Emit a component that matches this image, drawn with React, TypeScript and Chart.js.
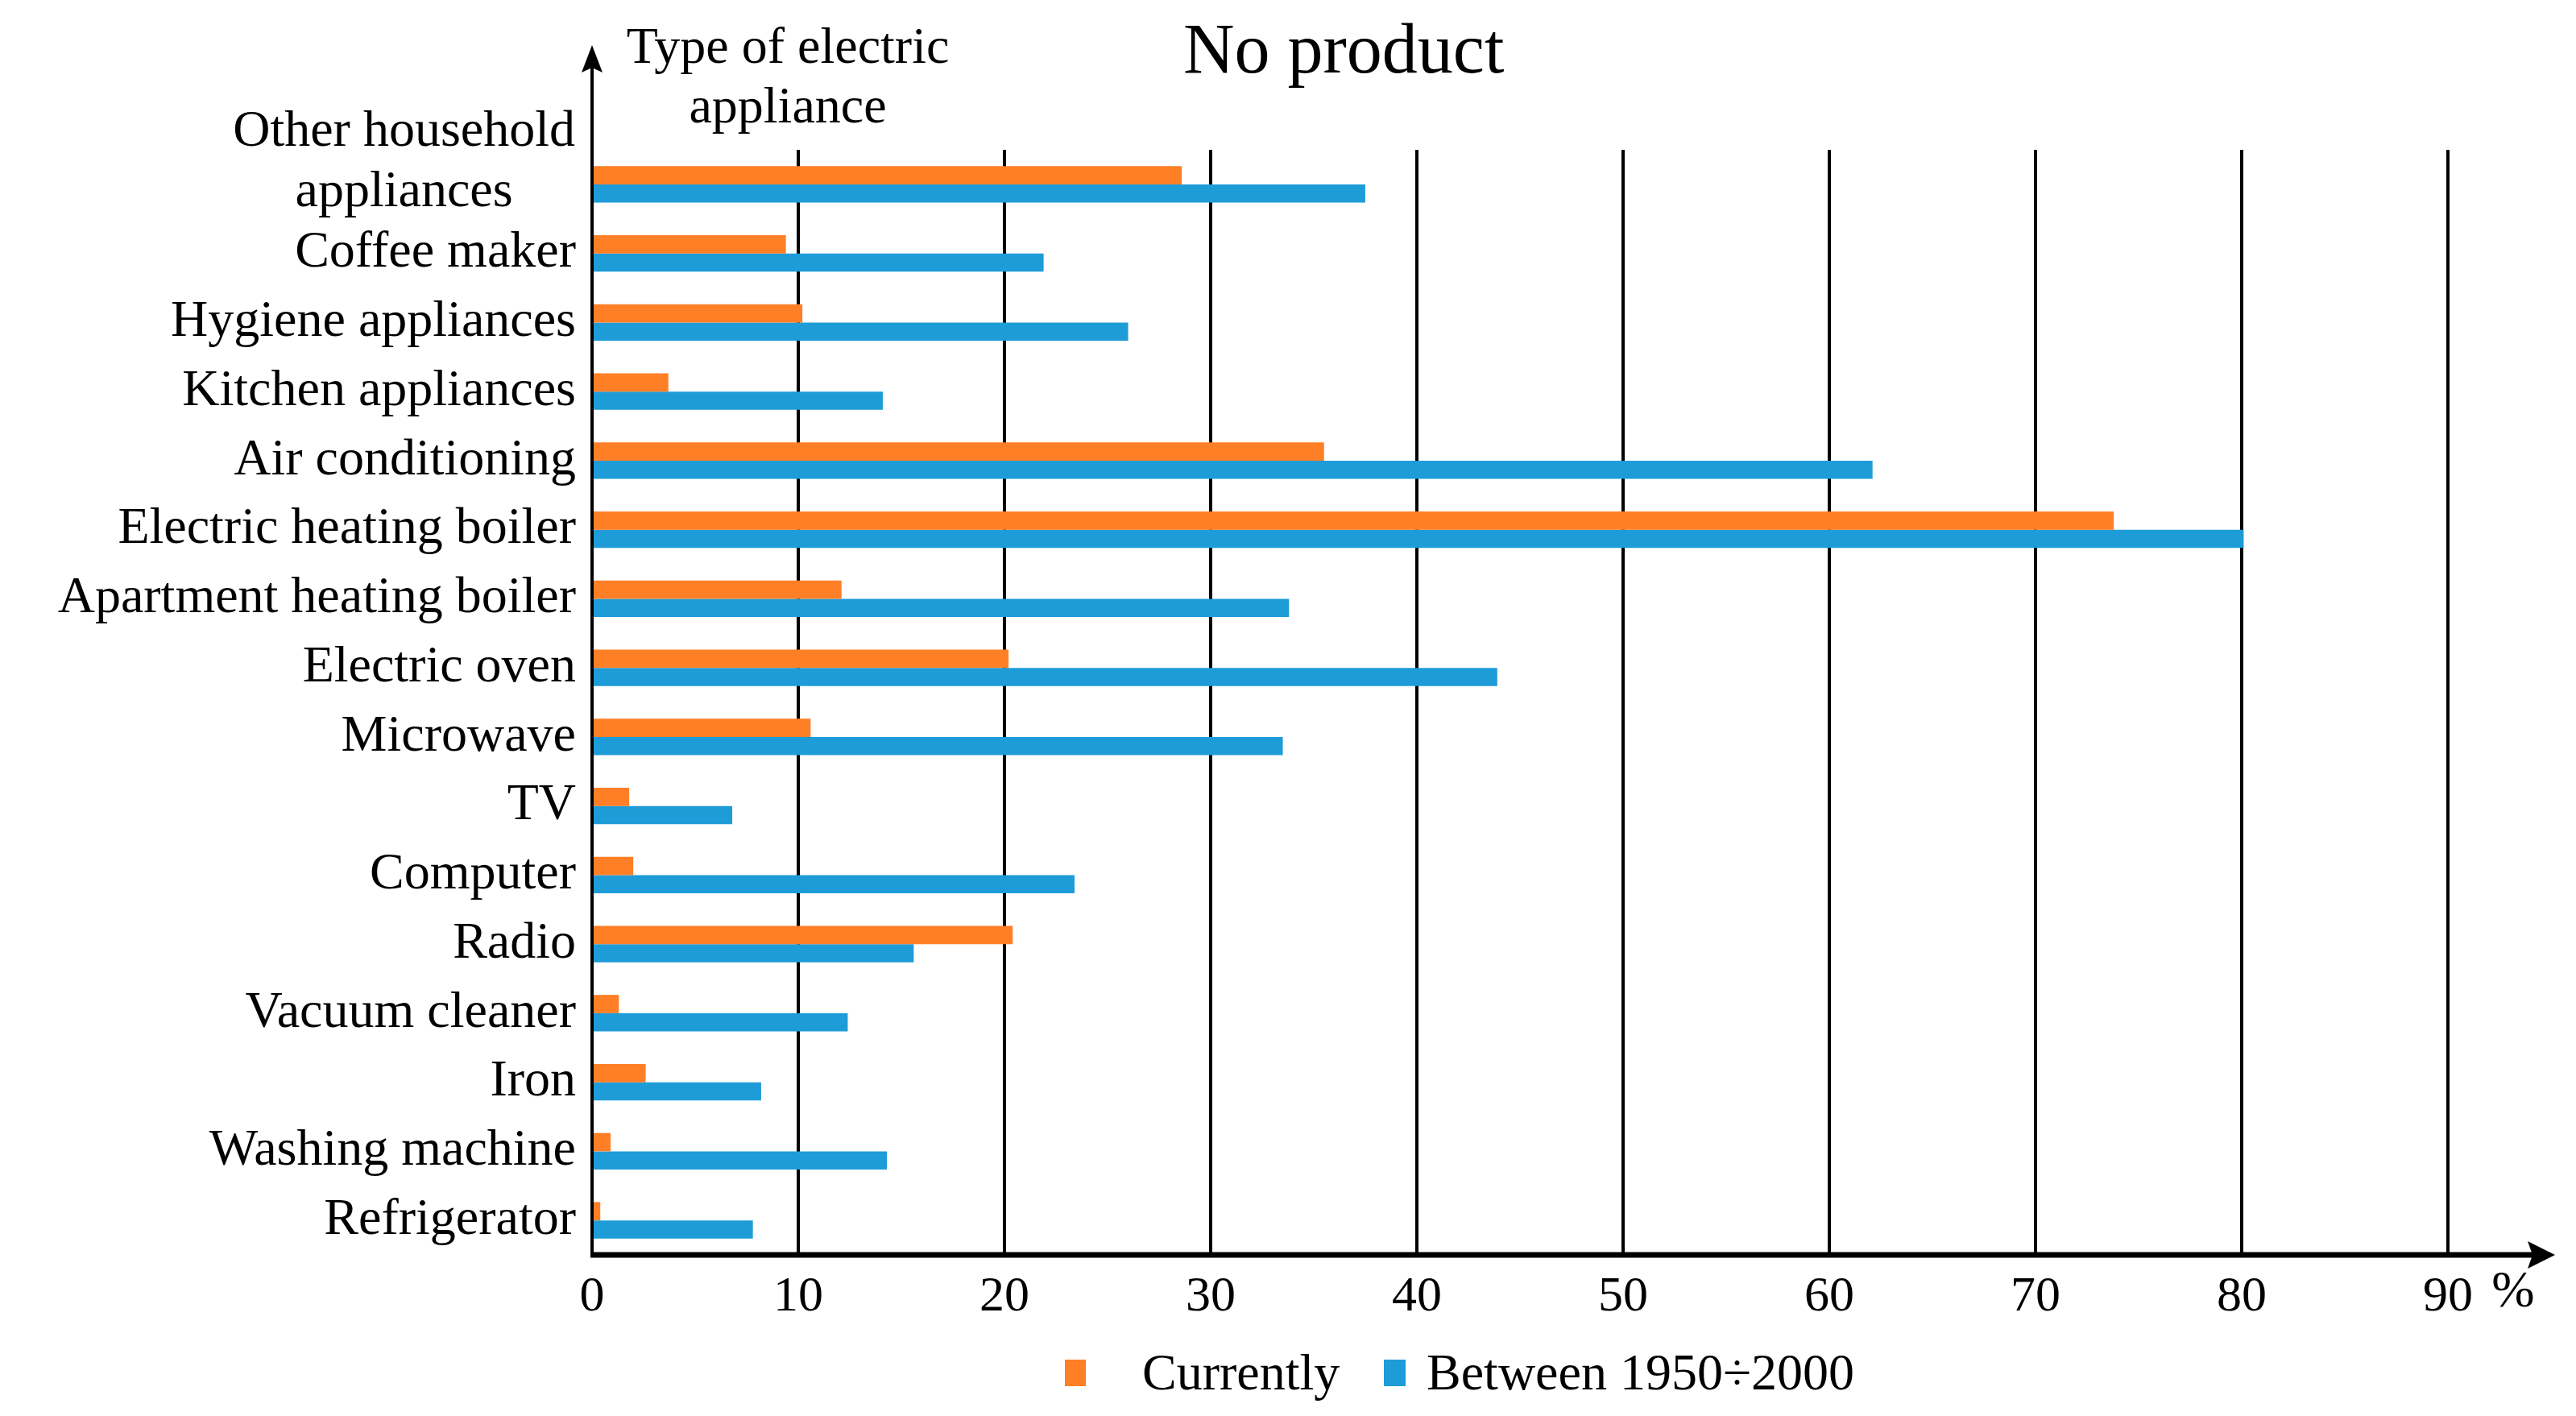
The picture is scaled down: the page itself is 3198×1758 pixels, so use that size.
import React, { useEffect, useRef } from "react";
import { Chart, registerables } from "chart.js";

Chart.register(...registerables);

const categories = [
  "Other household appliances",
  "Coffee maker",
  "Hygiene appliances",
  "Kitchen appliances",
  "Air conditioning",
  "Electric heating boiler",
  "Apartment heating boiler",
  "Electric oven",
  "Microwave",
  "TV",
  "Computer",
  "Radio",
  "Vacuum cleaner",
  "Iron",
  "Washing machine",
  "Refrigerator",
];
const currently = [28.6, 9.4, 10.2, 3.7, 35.5, 73.8, 12.1, 20.2, 10.6, 1.8, 2.0, 20.4, 1.3, 2.6, 0.9, 0.4];
const between = [37.5, 21.9, 26.0, 14.1, 62.1, 80.1, 33.8, 43.9, 33.5, 6.8, 23.4, 15.6, 12.4, 8.2, 14.3, 7.8];
const seriesNames = ["Currently", "Between 1950\u00F72000"];
const xTicks = [0, 10, 20, 30, 40, 50, 60, 70, 80, 90];
const chartTitle = "No product";
const yAxisTitle = ["Type of electric", "appliance"];
const unitLabel = "%";
const wrappedLabel = ["Other household", "appliances"];

const ORANGE = "#FF7F27";
const BLUE = "#1E9CD8";
const FONT = "'Liberation Serif', 'Times New Roman', serif";

const decorPlugin = {
  id: "decor",
  afterDraw(chart: any) {
    const { ctx, chartArea, scales } = chart;
    const x0 = scales.x.getPixelForValue(0);
    const bottom = chartArea.bottom;
    ctx.save();
    ctx.fillStyle = "#000";
    ctx.strokeStyle = "#000";
    // y axis with arrow
    ctx.lineWidth = 4;
    ctx.beginPath();
    ctx.moveTo(x0, bottom);
    ctx.lineTo(x0, 80);
    ctx.stroke();
    ctx.beginPath();
    ctx.moveTo(x0, 56);
    ctx.lineTo(x0 - 13, 90);
    ctx.lineTo(x0, 84);
    ctx.lineTo(x0 + 13, 90);
    ctx.closePath();
    ctx.fill();
    // x axis with arrow
    ctx.lineWidth = 7;
    ctx.beginPath();
    ctx.moveTo(x0 - 2, bottom);
    ctx.lineTo(chartArea.right - 20, bottom);
    ctx.stroke();
    ctx.beginPath();
    ctx.moveTo(chartArea.right, bottom);
    ctx.lineTo(chartArea.right - 34, bottom - 17);
    ctx.lineTo(chartArea.right - 28, bottom);
    ctx.lineTo(chartArea.right - 34, bottom + 17);
    ctx.closePath();
    ctx.fill();

    // title
    ctx.font = `88px ${FONT}`;
    ctx.textAlign = "left";
    ctx.textBaseline = "alphabetic";
    ctx.fillText(chartTitle, 1469, 90);

    // y axis title
    ctx.font = `64px ${FONT}`;
    ctx.textAlign = "center";
    ctx.fillText(yAxisTitle[0], 978, 78);
    ctx.fillText(yAxisTitle[1], 978, 152);

    // wrapped first category label (lines centred on each other)
    const yPix = scales.y.getPixelForValue(0);
    const w1 = ctx.measureText(wrappedLabel[0]).width;
    const cx = x0 - 21 - w1 / 2;
    ctx.fillText(wrappedLabel[0], cx, yPix - 48);
    ctx.fillText(wrappedLabel[1], cx, yPix + 27);

    // unit
    ctx.fillText(unitLabel, 3120, 1622);

    // legend
    ctx.textAlign = "left";
    ctx.fillStyle = ORANGE;
    ctx.fillRect(1322, 1688, 26, 33);
    ctx.fillStyle = "#000";
    ctx.fillText(seriesNames[0], 1418, 1725);
    ctx.fillStyle = BLUE;
    ctx.fillRect(1718, 1688, 27, 33);
    ctx.fillStyle = "#000";
    ctx.fillText(seriesNames[1], 1771, 1725);
    ctx.restore();
  },
};

export default function App() {
  const canvasRef = useRef<HTMLCanvasElement | null>(null);

  useEffect(() => {
    document.body.style.margin = "0";
    document.body.style.overflow = "hidden";
    const canvas = canvasRef.current;
    if (!canvas) return;
    const chart = new Chart(canvas, {
      type: "bar",
      data: {
        labels: categories,
        datasets: [
          { label: seriesNames[0], data: currently, backgroundColor: ORANGE },
          { label: seriesNames[1], data: between, backgroundColor: BLUE },
        ],
      },
      options: {
        indexAxis: "y",
        animation: false,
        responsive: true,
        maintainAspectRatio: false,
        layout: { padding: { top: 186, right: 26, left: 0, bottom: 0 } },
        datasets: {
          bar: { categoryPercentage: 0.53, barPercentage: 1.0 },
        },
        plugins: {
          legend: { display: false },
          title: { display: false },
          tooltip: { enabled: false },
        },
        scales: {
          x: {
            type: "linear",
            min: 0,
            max: 95.2,
            afterBuildTicks: (scale: any) => {
              scale.ticks = xTicks.map((v) => ({ value: v }));
            },
            afterFit: (scale: any) => {
              scale.height = 200;
            },
            border: { display: false },
            grid: {
              drawTicks: false,
              lineWidth: 4,
              color: (c: any) => (c.tick && c.tick.value === 0 ? "rgba(0,0,0,0)" : "#000"),
            },
            ticks: {
              padding: 16,
              color: "#000",
              font: { family: FONT, size: 62 },
              maxRotation: 0,
              autoSkip: false,
            },
          },
          y: {
            type: "category",
            afterFit: (scale: any) => {
              scale.width = 735;
            },
            border: { display: false },
            grid: { display: false, drawTicks: false },
            ticks: {
              padding: 20,
              color: "#000",
              autoSkip: false,
              font: { family: FONT, size: 64 },
              callback: (_v: any, i: number) => (i === 0 ? "" : categories[i]),
            },
          },
        },
      },
      plugins: [decorPlugin],
    });
    return () => chart.destroy();
  }, []);

  return (
    <div style={{ width: "3198px", height: "1758px", position: "relative", background: "#fff" }}>
      <canvas ref={canvasRef} style={{ display: "block" }} />
    </div>
  );
}
